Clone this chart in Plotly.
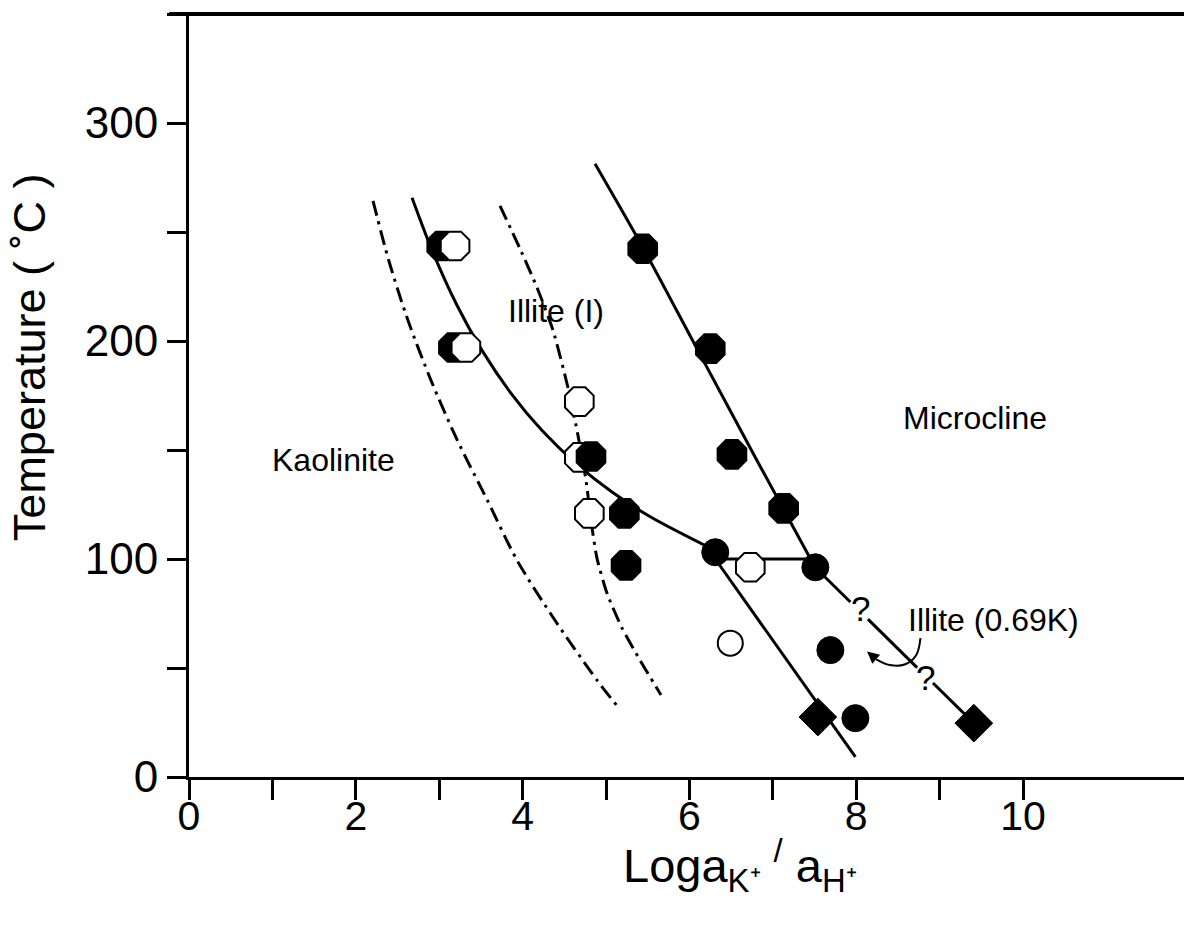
import plotly.graph_objects as go

# ---------------- data ----------------
# octagon samples (drawn in this order so overlaps match); filled flag
oct_x = [3.03, 3.19, 3.17, 3.32, 4.68, 4.68, 4.82, 4.80, 5.22, 5.24, 5.44, 6.25, 6.51, 7.13, 6.73]
oct_y = [243.6, 243.6, 197.0, 197.0, 172.2, 146.6, 147.0, 120.9, 120.9, 97.1, 242.3, 196.5, 148.0, 123.2, 96.2]
oct_filled = [1, 0, 1, 0, 0, 0, 1, 0, 1, 1, 1, 1, 1, 1, 0]

circ_filled_x = [6.31, 7.51, 7.69, 7.99]
circ_filled_y = [103.1, 96.2, 58.2, 27.0]
circ_open_x = [6.49]
circ_open_y = [61.4]

diam_x = [7.54, 9.41]
diam_y = [27.5, 24.7]

# boundary curves
kao_x = [2.206, 2.396, 2.627, 2.902, 3.218, 3.578, 3.933, 4.388, 4.892, 5.144]
kao_y = [264.3, 236.8, 209.3, 181.9, 154.4, 126.9, 99.4, 71.9, 44.4, 32.1]

illI_x = [3.729, 3.969, 4.173, 4.365, 4.532, 4.664, 4.760, 4.820, 4.892, 5.012, 5.192, 5.408, 5.659]
illI_y = [262.0, 242.3, 224.5, 204.8, 180.5, 156.7, 136.1, 117.7, 100.3, 84.3, 68.3, 53.6, 37.6]

main_x = [2.674, 2.914, 3.213, 3.513, 3.873, 4.233, 4.652, 5.072, 5.552, 6.307]
main_y = [265.7, 241.6, 216.4, 195.7, 175.4, 158.9, 143.4, 130.7, 118.9, 103.9]

horiz_x = [6.31, 7.51]
horiz_y = [100.0, 100.0]

steep_x = [6.31, 7.99]
steep_y = [100.0, 9.2]

micro_x = [4.868, 5.450, 6.090, 6.810, 7.506]
micro_y = [281.3, 242.3, 196.5, 145.2, 96.2]

micro_low_x = [7.506, 7.93, None, 8.14, 8.73, None, 8.92, 9.41]
micro_low_y = [96.2, 80.3, None, 72.4, 50.2, None, 43.1, 24.7]

arrow_curve_x = [8.77, 8.72, 8.58, 8.40, 8.24]
arrow_curve_y = [63.7, 56.0, 51.6, 51.4, 54.0]
arrow_head = (8.13, 57.6)

labels = [
    ("Kaolinite", 1.73, 145.2, 32),
    ("Illite (I)", 4.40, 213.9, 32),
    ("Microcline", 9.42, 164.9, 32),
    ("Illite (0.69K)", 9.64, 71.9, 32),
    ("?", 8.05, 77.4, 35),
    ("?", 8.83, 45.8, 35),
]

x_tick_vals = list(range(0, 11))
x_tick_text = ["0", "", "2", "", "4", "", "6", "", "8", "", "10"]
y_tick_vals = [0, 50, 100, 150, 200, 250, 300, 350]
y_tick_text = ["0", "", "100", "", "200", "", "300", ""]

FONT = "Liberation Sans, Arial, Helvetica, sans-serif"
DASHDOT = "15px,6px,3px,6px"

fig = go.Figure()

def line(x, y, dash="solid", shape="spline", smoothing=0.8):
    fig.add_trace(go.Scatter(x=x, y=y, mode="lines",
                             line=dict(color="black", width=3, dash=dash, shape=shape,
                                       smoothing=smoothing if shape == "spline" else None),
                             hoverinfo="skip", showlegend=False))

line(kao_x, kao_y, DASHDOT)
line(illI_x, illI_y, DASHDOT, smoothing=0.6)
line(main_x, main_y)
line(horiz_x, horiz_y, shape="linear")
line(steep_x, steep_y, shape="linear")
line(micro_x, micro_y)
line(micro_low_x, micro_low_y, shape="linear")

# arrow curve
fig.add_trace(go.Scatter(x=arrow_curve_x, y=arrow_curve_y, mode="lines",
                         line=dict(color="black", width=2, shape="spline"),
                         hoverinfo="skip", showlegend=False))

# markers
fig.add_trace(go.Scatter(x=oct_x, y=oct_y, mode="markers",
                         marker=dict(symbol="octagon", size=31,
                                     color=["black" if f else "white" for f in oct_filled],
                                     line=dict(color="black", width=2)),
                         showlegend=False))
fig.add_trace(go.Scatter(x=circ_filled_x, y=circ_filled_y, mode="markers",
                         marker=dict(symbol="circle", size=27, color="black",
                                     line=dict(color="black", width=1)),
                         showlegend=False))
fig.add_trace(go.Scatter(x=circ_open_x, y=circ_open_y, mode="markers",
                         marker=dict(symbol="circle", size=25, color="white",
                                     line=dict(color="black", width=2)),
                         showlegend=False))
fig.add_trace(go.Scatter(x=diam_x, y=diam_y, mode="markers",
                         marker=dict(symbol="diamond", size=29, color="black",
                                     line=dict(color="black", width=1)),
                         showlegend=False))

annotations = []
for txt, x, y, sz in labels:
    annotations.append(dict(text=txt, x=x, y=y, xref="x", yref="y", showarrow=False,
                            font=dict(family=FONT, size=sz, color="black"),
                            xanchor="center", yanchor="middle"))

# arrowhead
annotations.append(dict(text="", x=arrow_head[0], y=arrow_head[1], xref="x", yref="y",
                        ax=arrow_curve_x[-1], ay=arrow_curve_y[-1], axref="x", ayref="y",
                        showarrow=True, arrowhead=2, arrowsize=1.2, arrowwidth=2,
                        arrowcolor="black"))

# axis titles
annotations.append(dict(text="Temperature ( \u02daC )", x=-0.16, y=192.5, xref="paper", yref="y",
                        textangle=-90, showarrow=False, xanchor="center", yanchor="middle",
                        font=dict(family=FONT, size=45, color="black")))
annotations.append(dict(text="Loga<sub>K\u207a</sub> <sup>/</sup> a<sub>H\u207a</sub>",
                        x=6.61, y=-0.116, xref="x", yref="paper",
                        showarrow=False, xanchor="center", yanchor="middle",
                        font=dict(family=FONT, size=47, color="black")))

fig.update_layout(
    width=1184, height=933,
    margin=dict(l=189, r=0, t=14, b=156),
    paper_bgcolor="white", plot_bgcolor="white",
    font=dict(family=FONT, color="black"),
    annotations=annotations,
    shapes=[dict(type="line", xref="paper", yref="paper", x0=-0.02, x1=1.0, y0=1.0, y1=1.0,
                 line=dict(color="black", width=4))],
    xaxis=dict(range=[0, 11.93], showgrid=False, zeroline=False,
               showline=True, linecolor="black", linewidth=3, mirror=False,
               ticks="outside", ticklen=20, tickwidth=2.5, tickcolor="black",
               ticklabelstandoff=-19,
               tickvals=x_tick_vals, ticktext=x_tick_text,
               tickfont=dict(family=FONT, size=41, color="black")),
    yaxis=dict(range=[0, 350], showgrid=False, zeroline=False,
               showline=True, linecolor="black", linewidth=3,
               ticks="outside", ticklen=19, tickwidth=2.5, tickcolor="black",
               tickvals=y_tick_vals, ticktext=y_tick_text,
               tickfont=dict(family=FONT, size=44, color="black")),
)

fig.write_html("out.html", include_plotlyjs=True, config={"displayModeBar": False},
               post_script="document.body.style.margin='0';document.body.style.overflow='hidden';")
